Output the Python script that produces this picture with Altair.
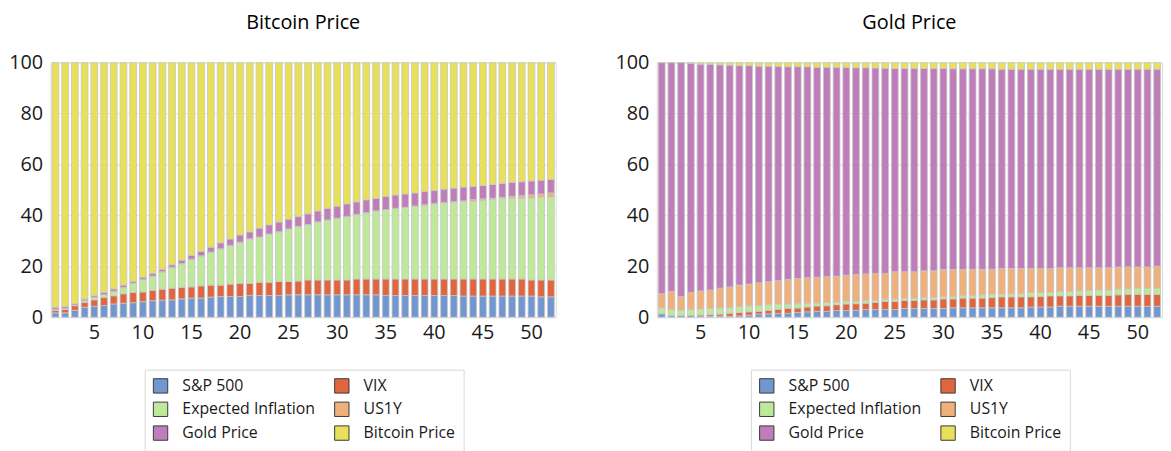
import altair as alt
import pandas as pd

periods = list(range(1, 53))
series = ["S&P 500", "VIX", "Expected Inflation", "US1Y", "Gold Price", "Bitcoin Price"]
colors = ["#7196D0", "#E0663F", "#BFE99A", "#EFB07C", "#BF7DBA", "#E8E05A"]

# ---- Bitcoin Price decomposition (%)
btc_sp500 = [1.7, 1.7, 2.7, 3.9, 4.3, 4.6, 5.2, 5.5, 5.7, 6.1, 6.5, 6.7, 6.8, 7.2, 7.5, 7.5, 7.9, 8.1, 8.1, 8.1,
             8.5, 8.5, 8.5, 8.5, 8.8, 8.8, 8.8, 8.8, 8.8, 8.8, 8.8, 8.8, 8.8, 8.8, 8.5, 8.5, 8.5, 8.5, 8.5, 8.5,
             8.5, 8.5, 8.3, 8.3, 8.3, 8.3, 8.3, 8.3, 8.3, 8.3, 8.0, 8.0]
btc_vix = [0.9, 1.3, 1.8, 1.9, 2.5, 3.1, 3.2, 3.7, 4.0, 3.8, 4.1, 4.3, 4.6, 4.5, 4.4, 4.8, 4.7, 4.5, 4.9, 5.2,
           4.8, 5.2, 5.2, 5.5, 5.2, 5.4, 5.8, 5.8, 5.8, 5.8, 5.8, 6.2, 6.2, 6.2, 6.5, 6.5, 6.5, 6.5, 6.5, 6.5,
           6.5, 6.5, 6.7, 6.7, 6.7, 6.7, 6.7, 6.7, 6.7, 6.3, 6.6, 6.6]
btc_infl = [0.4, 0.3, 0.2, 0.6, 0.9, 1.1, 1.7, 2.4, 3.6, 4.9, 5.5, 6.8, 8.1, 9.3, 10.8, 11.7, 12.9, 14.2, 15.1, 16.1,
            17.4, 17.7, 18.9, 19.5, 20.6, 21.4, 21.7, 22.8, 23.5, 24.2, 24.9, 25.3, 26.0, 26.7, 27.2, 27.7, 28.1, 28.6, 29.0, 29.5,
            29.9, 30.2, 30.5, 30.5, 30.9, 31.2, 31.6, 31.7, 31.7, 32.2, 32.5, 32.6]
btc_us1y = [0.1, 0.1, 0.1, 0.1, 0.1, 0.1, 0.1, 0.1, 0.1, 0.1, 0.1, 0.1, 0.1, 0.1, 0.1, 0.1, 0.1, 0.1, 0.1, 0.1,
            0.1, 0.1, 0.1, 0.1, 0.1, 0.1, 0.1, 0.1, 0.1, 0.1, 0.1, 0.1, 0.1, 0.1, 0.1, 0.1, 0.1, 0.1, 0.2, 0.2,
            0.2, 0.2, 0.2, 0.7, 0.6, 0.5, 0.5, 0.8, 1.0, 1.3, 1.3, 1.6]
btc_gold = [0.8, 0.7, 0.5, 0.6, 0.6, 0.8, 0.9, 0.9, 0.7, 0.8, 1.0, 0.9, 1.0, 1.3, 1.5, 1.7, 1.9, 2.3, 2.5, 2.8,
            2.7, 3.5, 3.6, 3.8, 3.8, 3.8, 4.2, 4.2, 4.5, 4.7, 4.9, 4.9, 5.0, 4.9, 5.1, 5.2, 5.2, 5.1, 5.2, 5.1,
            5.2, 5.3, 5.4, 5.2, 5.2, 5.4, 5.5, 5.4, 5.5, 5.4, 5.4, 5.3]
btc_btc = [96.1, 95.9, 94.7, 92.9, 91.6, 90.3, 88.9, 87.4, 85.9, 84.3, 82.8, 81.2, 79.4, 77.6, 75.7, 74.2, 72.5, 70.8, 69.3, 67.7,
           66.5, 65.0, 63.7, 62.6, 61.5, 60.5, 59.4, 58.3, 57.3, 56.4, 55.5, 54.7, 53.9, 53.3, 52.6, 52.0, 51.6, 51.2, 50.6, 50.2,
           49.7, 49.3, 48.9, 48.6, 48.3, 47.9, 47.4, 47.1, 46.8, 46.5, 46.2, 45.9]

# ---- Gold Price decomposition (%)
gold_sp500 = [1.3, 0.6, 0.6, 0.6, 0.5, 0.4, 0.4, 0.4, 0.5, 0.8, 1.2, 1.3, 1.5, 1.5, 1.8, 2.1, 2.3, 2.3, 2.6, 2.6,
              2.7, 3.0, 3.0, 3.0, 3.0, 3.4, 3.4, 3.4, 3.4, 3.4, 3.7, 3.7, 3.7, 3.7, 3.7, 3.7, 3.7, 3.7, 4.0, 4.0,
              4.0, 4.3, 4.3, 4.3, 4.3, 4.3, 4.3, 4.3, 4.3, 4.3, 4.3, 4.3]
gold_vix = [0.1, 0.1, 0.1, 0.1, 0.4, 0.6, 0.8, 1.1, 1.3, 1.3, 1.1, 1.4, 1.6, 2.0, 1.8, 1.9, 2.1, 2.2, 2.3, 2.6,
            2.6, 2.5, 2.8, 3.2, 3.2, 3.2, 3.2, 3.4, 3.4, 3.8, 3.5, 3.8, 3.8, 3.8, 4.0, 4.3, 4.3, 4.3, 4.0, 4.1,
            4.4, 4.1, 4.1, 4.3, 4.3, 4.3, 4.3, 4.5, 4.7, 4.7, 4.7, 4.7]
gold_infl = [2.2, 2.3, 2.1, 2.3, 2.3, 2.4, 2.4, 2.2, 2.3, 2.4, 2.2, 2.2, 2.1, 1.7, 1.7, 1.4, 1.1, 1.3, 1.0, 1.0,
             0.9, 1.0, 0.9, 0.9, 0.9, 0.8, 0.9, 0.9, 0.9, 0.9, 0.9, 1.0, 1.0, 1.3, 1.3, 1.0, 1.2, 1.2, 1.7, 1.6,
             1.3, 1.7, 1.7, 1.7, 1.9, 2.1, 2.1, 2.3, 2.1, 2.4, 2.4, 2.4]
gold_us1y = [5.6, 7.1, 5.3, 6.7, 7.1, 7.3, 7.8, 8.2, 8.5, 8.5, 9.0, 9.0, 9.1, 9.6, 9.9, 10.1, 10.2, 10.1, 10.2, 10.3,
             10.6, 10.5, 10.5, 10.1, 10.7, 10.4, 10.3, 10.5, 10.5, 10.6, 10.6, 10.2, 10.3, 10.0, 9.8, 10.1, 9.9, 9.9, 9.4, 9.4,
             9.4, 9.3, 9.3, 9.1, 8.9, 8.7, 8.7, 8.6, 8.6, 8.3, 8.3, 8.6]
gold_gold = [90.8, 89.9, 91.9, 90.0, 89.1, 88.7, 87.7, 87.1, 86.2, 85.8, 85.1, 84.7, 84.2, 83.6, 83.2, 82.9, 82.5, 82.3, 82.0, 81.6,
             81.2, 81.0, 80.7, 80.6, 79.9, 79.9, 79.9, 79.5, 79.5, 79.0, 78.9, 78.9, 78.8, 78.8, 78.8, 78.3, 78.3, 78.3, 78.3, 78.3,
             78.3, 78.0, 78.0, 78.0, 78.0, 78.0, 78.0, 77.7, 77.7, 77.7, 77.7, 77.4]
gold_btc = [0.0, 0.0, 0.0, 0.3, 0.6, 0.6, 0.9, 1.0, 1.2, 1.2, 1.4, 1.4, 1.5, 1.6, 1.6, 1.6, 1.8, 1.8, 1.9, 1.9,
            2.0, 2.0, 2.1, 2.2, 2.3, 2.3, 2.3, 2.3, 2.3, 2.3, 2.4, 2.4, 2.4, 2.4, 2.4, 2.6, 2.6, 2.6, 2.6, 2.6,
            2.6, 2.6, 2.6, 2.6, 2.6, 2.6, 2.6, 2.6, 2.6, 2.6, 2.6, 2.6]

x_ticks = [5, 10, 15, 20, 25, 30, 35, 40, 45, 50]
y_ticks = [0, 20, 40, 60, 80, 100]


def long_table(cols):
    rows = []
    for k, (name, vals) in enumerate(zip(series, cols)):
        for p, v in zip(periods, vals):
            rows.append({"period": p, "series": name, "value": v, "idx": k})
    return pd.DataFrame(rows)


FONT = "Open Sans"


def panel(df, title, width, legend_x):
    return (
        alt.Chart(df, title=alt.TitleParams(title, fontSize=20, font=FONT, fontWeight="normal",
                                            color="#000000", offset=20, anchor="middle"))
        .mark_bar(stroke="#c6c6c6", strokeWidth=0.8)
        .encode(
            x=alt.X("period:O", title=None,
                    scale=alt.Scale(paddingInner=0.3, paddingOuter=0.15),
                    axis=alt.Axis(values=x_ticks, labelAngle=0, labelFontSize=20, labelFont=FONT,
                                  labelColor="#1a1a1a", domain=False, ticks=False, labelPadding=6,
                                  grid=False)),
            y=alt.Y("value:Q", title=None, stack="zero",
                    scale=alt.Scale(domain=[0, 100], nice=False),
                    axis=alt.Axis(values=y_ticks, labelFontSize=20, labelFont=FONT, labelColor="#1a1a1a",
                                  domain=False, ticks=False, labelPadding=8, gridColor="#e3e3e3")),
            color=alt.Color("series:N", title=None,
                            scale=alt.Scale(domain=series, range=colors),
                            legend=alt.Legend(orient="none", legendX=legend_x, legendY=310, columns=2,
                                              direction="horizontal",
                                              symbolType="square", symbolSize=210, symbolStrokeColor="#3a3a3a",
                                              symbolStrokeWidth=1, symbolOpacity=1,
                                              labelFontSize=16, labelFont=FONT, labelColor="#1a1a1a",
                                              labelOffset=14, columnPadding=16, rowPadding=4,
                                              padding=8, strokeColor="#d9d9d9", fillColor="white",
                                              labelLimit=300)),
            order=alt.Order("idx:Q", sort="ascending"),
        )
        .properties(width=width, height=257)
    )


left = panel(long_table([btc_sp500, btc_vix, btc_infl, btc_us1y, btc_gold, btc_btc]), "Bitcoin Price", 510, 95)
right = panel(long_table([gold_sp500, gold_vix, gold_infl, gold_us1y, gold_gold, gold_btc]), "Gold Price", 510, 95)

chart = (
    alt.hconcat(left, right, spacing=58)
    .resolve_legend(color="independent")
    .resolve_scale(color="independent")
    .configure_view(stroke=None)
    .configure(background="white", padding={"left": 0, "right": 0, "top": 2, "bottom": 0})
)

chart.save("out.html", embed_options={"renderer": "svg", "actions": False})
